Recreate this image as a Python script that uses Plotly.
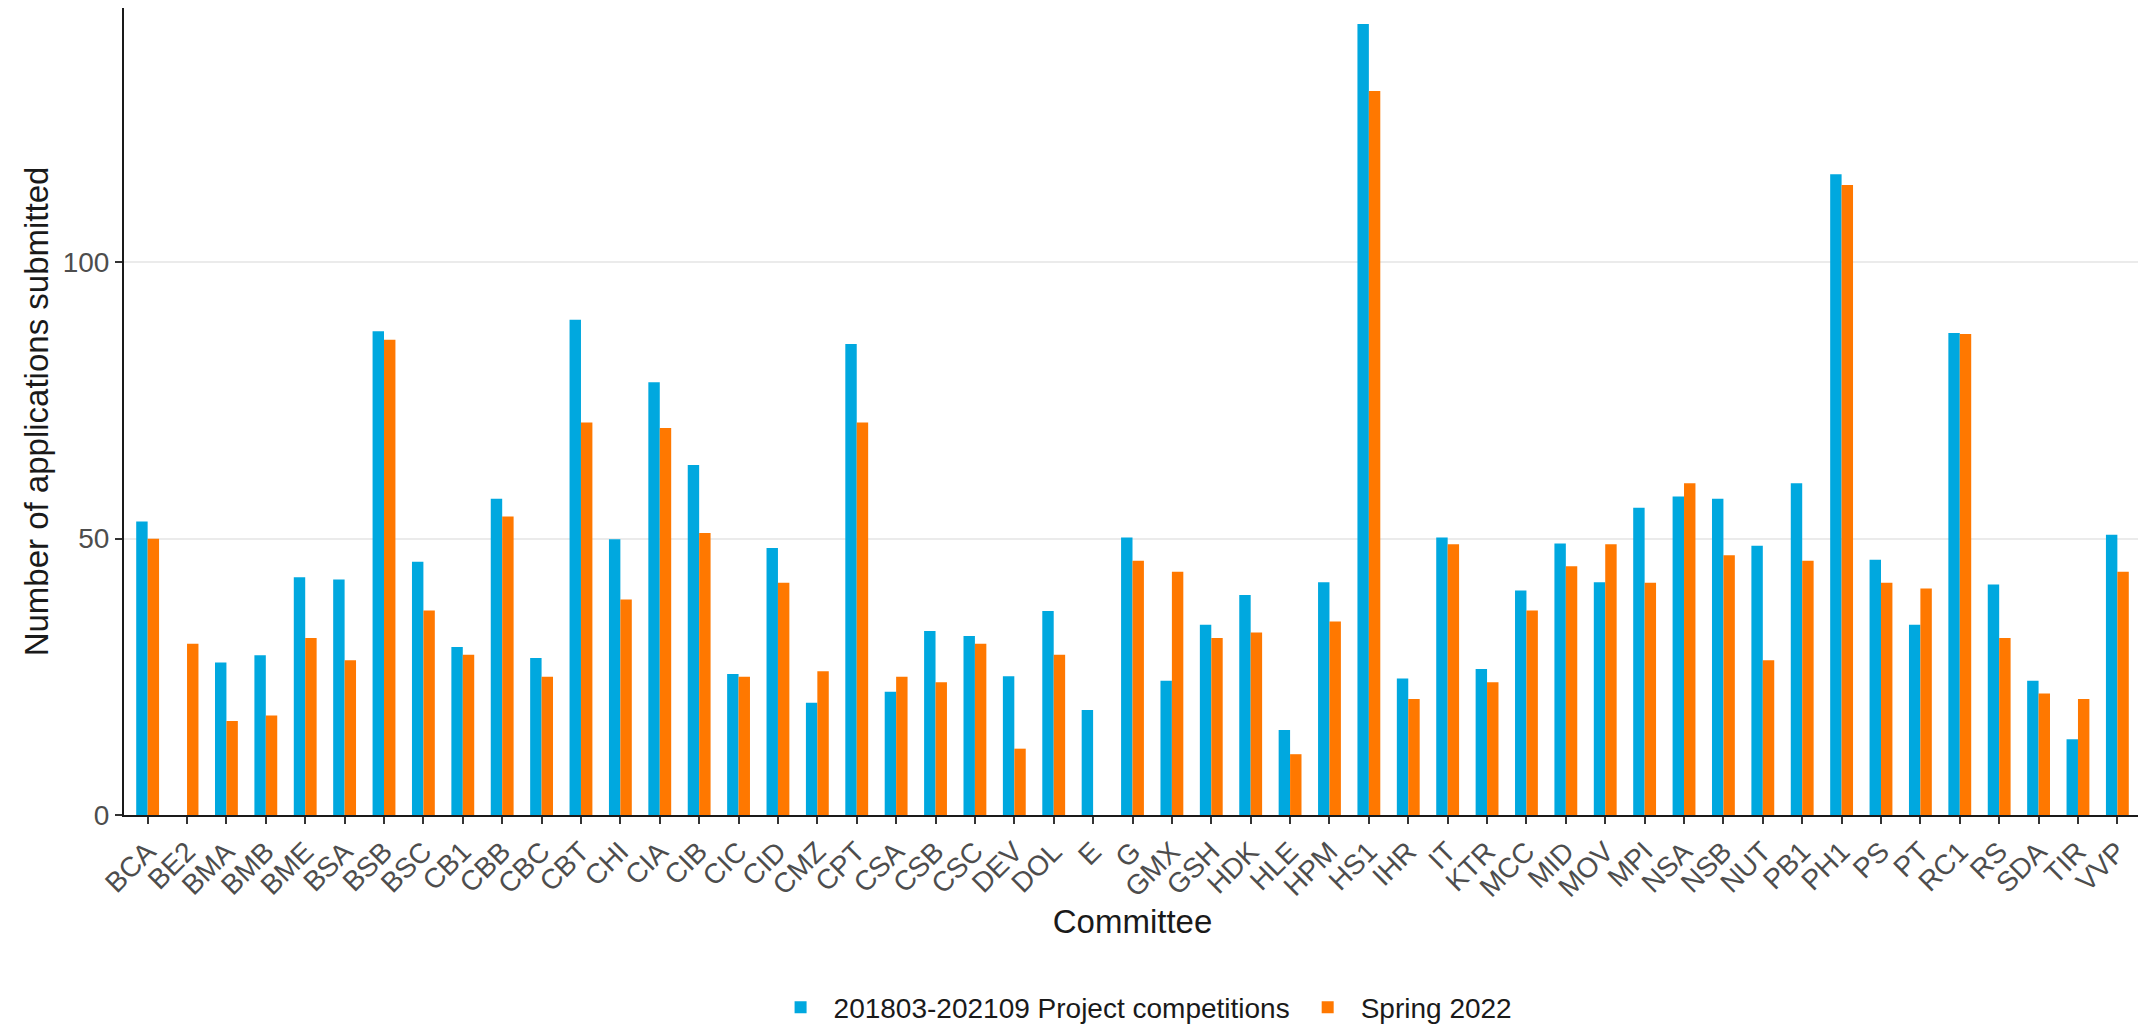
import plotly.graph_objects as go

# committees on the x axis
committees = ['BCA', 'BE2', 'BMA', 'BMB', 'BME', 'BSA', 'BSB', 'BSC', 'CB1', 'CBB',
              'CBC', 'CBT', 'CHI', 'CIA', 'CIB', 'CIC', 'CID', 'CMZ', 'CPT', 'CSA',
              'CSB', 'CSC', 'DEV', 'DOL', 'E', 'G', 'GMX', 'GSH', 'HDK', 'HLE',
              'HPM', 'HS1', 'IHR', 'IT', 'KTR', 'MCC', 'MID', 'MOV', 'MPI', 'NSA',
              'NSB', 'NUT', 'PB1', 'PH1', 'PS', 'PT', 'RC1', 'RS', 'SDA', 'TIR', 'VVP']

# 201803-202109 project competitions (None = no bar)
past = [53.1, None, 27.6, 28.9, 43.0, 42.6, 87.5, 45.8, 30.4, 57.2,
        28.4, 89.6, 49.9, 78.3, 63.3, 25.5, 48.3, 20.3, 85.2, 22.3,
        33.3, 32.4, 25.1, 36.9, 19.0, 50.2, 24.3, 34.4, 39.8, 15.4,
        42.1, 143.1, 24.7, 50.2, 26.4, 40.6, 49.1, 42.1, 55.6, 57.6,
        57.2, 48.7, 60.0, 115.9, 46.2, 34.4, 87.2, 41.7, 24.3, 13.7, 50.7]

# Spring 2022
spring = [50, 31, 17, 18, 32, 28, 86, 37, 29, 54,
          25, 71, 39, 70, 51, 25, 42, 26, 71, 25,
          24, 31, 12, 29, None, 46, 44, 32, 33, 11,
          35, 131, 21, 49, 24, 37, 45, 49, 42, 60,
          47, 28, 46, 114, 42, 41, 87, 32, 22, 21, 44]

y_ticks = [0, 50, 100]

BLUE = '#00A8DF'
ORANGE = '#FF7800'
FONT = 'Liberation Sans'

fig = go.Figure()
fig.add_trace(go.Bar(x=committees, y=past, name='201803-202109 Project competitions',
                     marker=dict(color=BLUE, line=dict(width=0))))
fig.add_trace(go.Bar(x=committees, y=spring, name='Spring 2022',
                     marker=dict(color=ORANGE, line=dict(width=0))))

# the page body adds an 8px margin, so the figure is a bit smaller than the window
fig.update_layout(
    width=2138, height=1025,
    barmode='group', bargap=0.42, bargroupgap=0,
    plot_bgcolor='white', paper_bgcolor='white',
    font=dict(family=FONT, size=28, color='#4d4d4d'),
    margin=dict(l=116, r=5, t=0, b=216),
    showlegend=True,
    legend=dict(orientation='h', x=0.505, xanchor='center', y=-0.2386, yanchor='middle',
                itemwidth=56, font=dict(size=28, color='#1a1a1a'), traceorder='normal'),
    xaxis=dict(
        title=dict(text='Committee', font=dict(size=33, color='#1a1a1a'), standoff=0),
        tickangle=-45, tickfont=dict(size=28, color='#4d4d4d'),
        showgrid=False, zeroline=False, automargin=False,
        showline=True, linecolor='#1a1a1a', linewidth=2,
        ticks='outside', ticklen=7, tickwidth=1.5, tickcolor='#333333',
        range=[-0.6, len(committees) - 0.4],
    ),
    yaxis=dict(
        title=dict(text='Number of applications submitted', font=dict(size=33, color='#1a1a1a'),
                   standoff=4),
        tickvals=y_ticks, tickfont=dict(size=28, color='#4d4d4d'),
        range=[0, 146], automargin=False,
        showgrid=True, gridcolor='#ebebeb', gridwidth=1.5,
        zeroline=False,
        showline=True, linecolor='#1a1a1a', linewidth=2,
        ticks='outside', ticklen=7, tickwidth=1.5, tickcolor='#333333',
    ),
)

fig.write_html('out.html')
